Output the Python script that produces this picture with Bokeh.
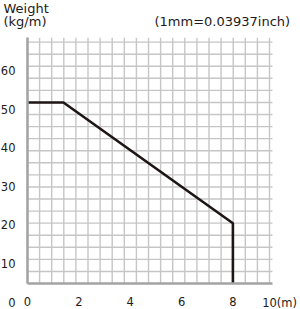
import numpy as np
from bokeh.plotting import figure
from bokeh.models import FixedTicker, Label, Range1d
from bokeh.embed import file_html
from bokeh.resources import INLINE

# ---- data ----
length_m = [0, 1.4, 8]
weight_kg_m = [51.7, 51.7, 20.4]
x_ticks = [0, 2, 4, 6, 8]
y_ticks = [10, 20, 30, 40, 50, 60]
y_title = "Weight"
y_unit = "(kg/m)"
note = "(1mm=0.03937inch)"
x_last = "10(m)"
y_zero = "0"

# ---- layout constants (data units of the drawing area) ----
X_LEFT, X_RIGHT = -1.0516, 10.633      # whole canvas
Y_BOTTOM, Y_TOP = -1.936, 78.12        # whole canvas
AXIS_Y = 4.8                           # where the x axis sits
GRID_RIGHT = 9.54
GRID_TOP = 68.5
GRID_X_STEP = 0.4713
GRID_Y_STEP = 3.127
FONT = "DejaVu Sans"
TXT = "#1e1a19"
GRID_COLOR = "#c6c6c6"
AXIS_COLOR = "#a3a3a3"

p = figure(width=300, height=309, output_backend="svg", toolbar_location=None,
           x_range=Range1d(X_LEFT, X_RIGHT), y_range=Range1d(Y_BOTTOM, Y_TOP),
           min_border=0)
p.outline_line_color = None
p.background_fill_color = "white"
p.border_fill_color = "white"
p.xgrid.visible = False
p.ygrid.visible = False

# square paper grid
gx = np.arange(21) * GRID_X_STEP
gy = AXIS_Y + np.arange(1, 21) * GRID_Y_STEP
p.segment(x0=gx, y0=AXIS_Y, x1=gx, y1=GRID_TOP, line_color=GRID_COLOR, line_width=1.4)
p.segment(x0=0, y0=gy, x1=GRID_RIGHT, y1=gy, line_color=GRID_COLOR, line_width=1.4)

# axes placed inside the drawing area
p.xaxis.ticker = FixedTicker(ticks=x_ticks)
p.yaxis.ticker = FixedTicker(ticks=y_ticks)
p.xaxis.fixed_location = AXIS_Y
p.yaxis.fixed_location = 0
p.xaxis.bounds = (0, GRID_RIGHT)
p.yaxis.bounds = (AXIS_Y, GRID_TOP)
for ax in (p.xaxis, p.yaxis):
    ax.axis_line_color = AXIS_COLOR
    ax.axis_line_width = 2.5
    ax.major_tick_line_color = None
    ax.minor_tick_line_color = None
    ax.major_tick_out = 0
    ax.major_tick_in = 0
    ax.major_label_text_font = FONT
    ax.major_label_text_font_size = "11.5px"
    ax.major_label_text_color = TXT
p.yaxis.major_label_standoff = 12
p.xaxis.major_label_standoff = 13

# data line, dropping to the axis at the end
xs = length_m + [length_m[-1]]
ys = weight_kg_m + [AXIS_Y]
p.line(xs, ys, line_color="#1e1614", line_width=2.6)

def lab(text, x, y, align="left", size="13px"):
    p.add_layout(Label(x=x, y=y, x_units="canvas", y_units="canvas", text=text,
                       text_align=align, text_baseline="alphabetic",
                       text_font=FONT, text_font_size=size, text_color=TXT))

lab(y_title, 3, 7.5)
lab(y_unit, 3, 20.5)
lab(note, 154, 20.5)
lab(y_zero, 15, 302, align="right", size="11.5px")
lab(x_last, 261.7, 302, size="11.5px")

open("out.html", "w").write(file_html(p, INLINE))
